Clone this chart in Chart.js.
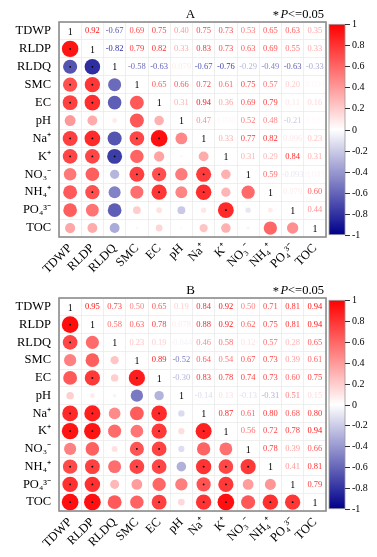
<!DOCTYPE html>
<html>
<head>
<meta charset="utf-8">
<script src="https://cdn.jsdelivr.net/npm/chart.js@4.4.1/dist/chart.umd.min.js"></script>
<style>
  html, body { margin: 0; padding: 0; background: #fff; }
  canvas { display: block; }
</style>
</head>
<body>
<canvas id="chartA" width="377" height="278"></canvas>
<canvas id="chartB" width="377" height="279"></canvas>
<script>
const variables = ['TDWP', 'RLDP', 'RLDQ', 'SMC', 'EC', 'pH', 'Na⁺', 'K⁺', 'NO₃⁻', 'NH₄⁺', 'PO₄³⁻', 'TOC'];

// upper triangle of each matrix, row by row, starting at the diagonal
const upperA = [
    [1, 0.92, -0.67, 0.69, 0.75, 0.40, 0.75, 0.73, 0.53, 0.65, 0.63, 0.35],
    [1, -0.82, 0.79, 0.82, 0.33, 0.83, 0.73, 0.63, 0.69, 0.55, 0.33],
    [1, -0.58, -0.63, 0.079, -0.67, -0.76, -0.29, -0.49, -0.63, -0.33],
    [1, 0.65, 0.66, 0.72, 0.61, 0.75, 0.57, 0.20, 0.03],
    [1, 0.31, 0.94, 0.36, 0.69, 0.79, 0.11, 0.16],
    [1, 0.47, 0.03, 0.52, 0.48, -0.21, 0.02],
    [1, 0.33, 0.77, 0.82, 0.096, 0.23],
    [1, 0.31, 0.29, 0.84, 0.31],
    [1, 0.59, -0.093, 0.045],
    [1, 0.079, 0.60],
    [1, 0.44],
    [1]
];
const upperB = [
    [1, 0.95, 0.73, 0.50, 0.65, 0.19, 0.84, 0.92, 0.50, 0.71, 0.81, 0.94],
    [1, 0.58, 0.63, 0.78, 0.078, 0.88, 0.92, 0.62, 0.75, 0.81, 0.94],
    [1, 0.23, 0.19, -0.044, 0.46, 0.58, 0.12, 0.57, 0.28, 0.65],
    [1, 0.89, -0.52, 0.64, 0.54, 0.67, 0.73, 0.39, 0.61],
    [1, -0.30, 0.83, 0.78, 0.74, 0.73, 0.60, 0.75],
    [1, -0.14, 0.13, -0.13, -0.31, 0.51, 0.15],
    [1, 0.87, 0.61, 0.80, 0.68, 0.80],
    [1, 0.56, 0.72, 0.78, 0.94],
    [1, 0.78, 0.39, 0.66],
    [1, 0.41, 0.81],
    [1, 0.79],
    [1]
];

// significant cells (row, column) in the lower triangle
const starsA = [[1,0],[2,0],[2,1],[3,0],[3,1],[4,0],[4,1],[6,0],[6,1],[6,3],[6,4],
    [7,0],[7,1],[7,2],[8,3],[8,4],[8,6],[9,1],[9,4],[9,6],[10,7]];
const starsB = [[1,0],[2,0],[4,1],[4,3],[6,0],[6,1],[6,4],[7,0],[7,1],[7,4],[7,6],
    [8,3],[8,4],[9,0],[9,1],[9,3],[9,4],[9,6],[9,7],[9,8],[10,0],[10,1],[10,6],[10,7],
    [11,0],[11,1],[11,4],[11,6],[11,7],[11,9],[11,10]];

const colorbarTicks = [1, 0.8, 0.6, 0.4, 0.2, 0, -0.2, -0.4, -0.6, -0.8, -1];

const serif = '"Liberation Serif", "Times New Roman", serif';

const fullMatrix = (upper) => variables.map((_, i) =>
    variables.map((_, j) => i <= j ? upper[i][j - i] : upper[j][i - j]));

const corrColor = (v) => {
    if (v >= 0) {
        const c = Math.round(255 * (1 - v));
        return `rgb(255,${c},${c})`;
    }
    const a = -v;
    const c = Math.round(255 * (1 - a));
    return `rgb(${c},${c},${Math.round(255 - 116 * a)})`;
};

const fmt = (v) => Math.abs(v) < 0.1 ? v.toPrecision(2) : v.toFixed(2);

const matrixPlugin = {
    id: 'matrixText',
    afterDatasetsDraw(chart, args, opts) {
        const {ctx, chartArea: a, scales: {x, y, cb}} = chart;
        ctx.save();
        ctx.textAlign = 'center';
        ctx.textBaseline = 'middle';

        opts.matrix.forEach((row, i) => row.forEach((v, j) => {
            if (j < i) return;
            const px = x.getPixelForValue(j);
            const py = y.getPixelForValue(i);
            if (i === j) {
                ctx.fillStyle = '#000';
                ctx.font = `10px ${serif}`;
                ctx.fillText('1', px, py + 1);
            } else {
                ctx.fillStyle = corrColor(v);
                ctx.font = `8.5px ${serif}`;
                ctx.fillText(fmt(v), px, py);
            }
        }));

        // frame
        ctx.strokeStyle = '#8c8c8c';
        ctx.lineWidth = 1.6;
        ctx.strokeRect(a.left, a.top, a.width, a.height);

        // colorbar
        const x0 = a.right + 3, w = 16;
        const yTop = cb.getPixelForValue(1), yBot = cb.getPixelForValue(-1);
        const grad = ctx.createLinearGradient(0, yTop, 0, yBot);
        grad.addColorStop(0, corrColor(1));
        grad.addColorStop(0.5, corrColor(0));
        grad.addColorStop(1, corrColor(-1));
        ctx.fillStyle = grad;
        ctx.fillRect(x0, yTop, w, yBot - yTop);
        ctx.strokeStyle = '#9a9a9a';
        ctx.lineWidth = 0.8;
        ctx.strokeRect(x0, yTop, w, yBot - yTop);

        ctx.strokeStyle = '#333';
        ctx.lineWidth = 1;
        ctx.fillStyle = '#000';
        ctx.font = `10px ${serif}`;
        ctx.textAlign = 'left';
        colorbarTicks.forEach(t => {
            const ty = Math.round(cb.getPixelForValue(t)) + 0.5;
            ctx.beginPath();
            ctx.moveTo(x0 + w, ty);
            ctx.lineTo(x0 + w + 5, ty);
            ctx.stroke();
            ctx.fillText(String(t), x0 + w + 7, ty);
        });

        // titles
        const ty = a.top - 7;
        ctx.font = `13px ${serif}`;
        ctx.textAlign = 'center';
        ctx.fillText(opts.title, (a.left + a.right) / 2 - 2, ty);

        ctx.textAlign = 'left';
        const parts = [['*', `12.5px ${serif}`], ['P', `italic 12.5px ${serif}`], ['<=0.05', `12.5px ${serif}`]];
        let total = 0;
        parts.forEach(([s, f]) => { ctx.font = f; total += ctx.measureText(s).width + (s === '*' ? 1.5 : 0); });
        let px = a.right - 2 - total;
        parts.forEach(([s, f]) => {
            ctx.font = f;
            ctx.fillText(s, px, ty + (s === '*' ? 1 : 0));
            px += ctx.measureText(s).width + (s === '*' ? 1.5 : 0);
        });
        ctx.restore();
    }
};

const makeChart = (canvasId, title, upper, stars, topPad, bottomSpace) => {
    const matrix = fullMatrix(upper);
    const circles = [];
    matrix.forEach((row, i) => row.forEach((v, j) => {
        if (i > j) circles.push({x: variables[j], y: variables[i], r: 8.6 * Math.sqrt(Math.abs(v)), v});
    }));
    const starPoints = stars.map(([i, j]) => ({x: variables[j], y: variables[i]}));

    const tickFont = {family: serif, size: 12.5};
    const gridStyle = {offset: true, color: '#ebebeb', lineWidth: 0.8, drawTicks: false};

    return new Chart(document.getElementById(canvasId), {
        type: 'bubble',
        data: {
            datasets: [
                {
                    data: circles,
                    backgroundColor: (c) => c.raw ? corrColor(c.raw.v) : '#fff',
                    borderWidth: 0,
                    order: 1,
                    xAxisID: 'x',
                    yAxisID: 'y'
                },
                {
                    type: 'scatter',
                    data: starPoints,
                    pointStyle: 'circle',
                    pointRadius: 0.9,
                    pointBorderWidth: 0,
                    pointBackgroundColor: '#000',
                    order: 0,
                    xAxisID: 'x',
                    yAxisID: 'y'
                }
            ]
        },
        options: {
            responsive: false,
            animation: false,
            events: [],
            layout: {padding: {left: 0, right: 51, top: topPad, bottom: 0}},
            plugins: {
                legend: {display: false},
                tooltip: {enabled: false},
                matrixText: {matrix, title}
            },
            scales: {
                x: {
                    type: 'category',
                    labels: variables,
                    offset: true,
                    grid: gridStyle,
                    border: {display: false},
                    ticks: {color: '#000', font: tickFont, maxRotation: 45, minRotation: 45, padding: 4, autoSkip: false},
                    afterFit: (s) => { s.height = bottomSpace; }
                },
                y: {
                    type: 'category',
                    labels: variables,
                    offset: true,
                    grid: gridStyle,
                    border: {display: false},
                    ticks: {color: '#000', font: tickFont, padding: 8, autoSkip: false},
                    afterFit: (s) => { s.width = 59; }
                },
                cb: {
                    type: 'linear',
                    axis: 'y',
                    display: false,
                    min: -1.022,
                    max: 1.022
                }
            }
        },
        plugins: [matrixPlugin]
    });
};

makeChart('chartA', 'A', upperA, starsA, 22, 41);
makeChart('chartB', 'B', upperB, starsB, 20, 46);
</script>
</body>
</html>
